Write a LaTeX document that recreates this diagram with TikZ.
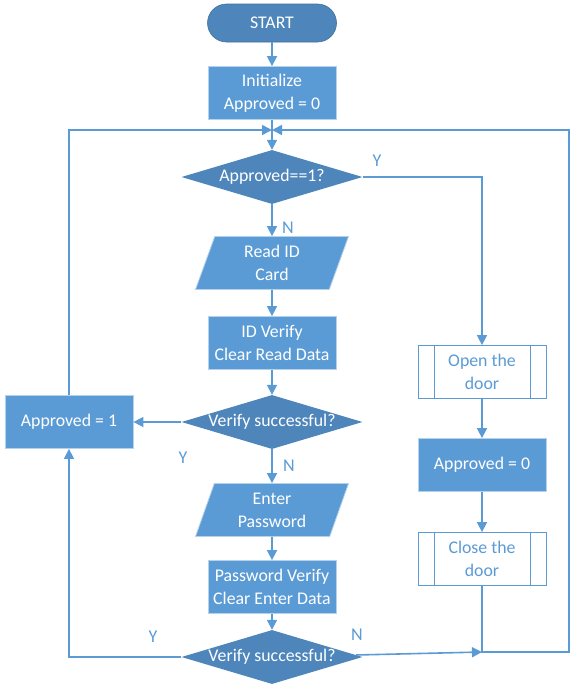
\documentclass[tikz,border=0pt]{standalone}
\usepackage{fontspec}
\setmainfont{Carlito}
\usepackage{xcolor}
\usetikzlibrary{shapes,arrows.meta,positioning,calc}
\definecolor{lineblue}{HTML}{5B9BD5}
\definecolor{boxblue}{HTML}{5B9BD5}
\definecolor{darkblue}{HTML}{4E86BC}
\definecolor{edgeblue}{HTML}{41719C}

\begin{document}
\begin{tikzpicture}[x=1pt,y=-1pt,
  font=\fontsize{17.8}{23}\selectfont,
  line/.style={draw=lineblue, line width=1.6pt},
  arr/.style={line, -{Triangle[width=10pt,length=10pt]}},
  proc/.style={rectangle, fill=boxblue, draw=boxblue!45, line width=0.8pt, text=white,
    minimum width=128pt, minimum height=53pt, align=center, inner sep=2pt},
  io/.style={trapezium, trapezium left angle=64, trapezium right angle=116,
    trapezium stretches body, fill=boxblue, draw=boxblue!45, line width=0.8pt, text=white,
    minimum width=153pt, minimum height=53pt, align=center, inner sep=2pt},
  decide/.style={diamond, aspect=3.35, fill=darkblue, text=white,
    minimum width=181pt, minimum height=54pt, inner sep=0pt},
  subproc/.style={rectangle, fill=white, draw=lineblue, line width=0.8pt, text=lineblue,
    minimum width=128pt, minimum height=53pt, align=center, inner sep=2pt,
    path picture={\draw[lineblue, line width=0.8pt]
      ([xshift=16pt]path picture bounding box.north west) -- ([xshift=16pt]path picture bounding box.south west)
      ([xshift=-16pt]path picture bounding box.north east) -- ([xshift=-16pt]path picture bounding box.south east);}},
  startstop/.style={rectangle, rounded corners=19pt, fill=darkblue, draw=edgeblue, line width=0.6pt,
    text=white, minimum width=129pt, minimum height=38pt},
  yn/.style={text=lineblue, font=\fontsize{18}{20}\selectfont, inner sep=0pt}
]
\useasboundingbox (0,0) rectangle (585,694);

% main column
\node[startstop] (start) at (272,23) {START};
\node[proc] (init) at (272,93) {Initialize\\Approved = 0};
\coordinate (join) at (272,130);
\node[decide] (chk) at (272,177) {Approved==1?};
\node[io] (card) at (272,263) {Read ID\\Card};
\node[proc] (idver) at (272,343) {ID Verify\\Clear Read Data};
\node[decide] (idok) at (272,422) {Verify successful?};
\node[proc] (appr1) at (69,422) {Approved = 1};
\node[io] (pwd) at (272,510) {Enter\\Password};
\node[proc] (pwver) at (272,587) {Password Verify\\Clear Enter Data};
\node[decide] (pwok) at (272,657) {Verify successful?};

% door column
\node[subproc] (open) at (482,372) {Open the\\door};
\node[proc] (appr0) at (482,465) {Approved = 0};
\node[subproc] (close) at (482,559) {Close the\\door};
\coordinate (merge) at (482,652);
\coordinate (back) at (569,652);

% connectors
\draw[arr] (start) -- (init);
\draw[line] (init) -- (join);
\draw[arr] (join) -- (chk);
\draw[arr] (chk) -- (card);
\draw[arr] (card) -- (idver);
\draw[arr] (idver) -- (idok);
\draw[arr] (idok) -- (appr1);
\draw[arr] (idok) -- (pwd);
\draw[arr] (pwd) -- (pwver);
\draw[arr] (pwver) -- (pwok);
\draw[arr] (pwok) -| (appr1);
\draw[arr] (appr1) |- (join);
\draw[arr] (chk) -| (open);
\draw[arr] (open) -- (appr0);
\draw[arr] (appr0) -- (close);
\draw[arr] (pwok) -- (merge);
\draw[arr] (close) |- (back) |- (join);

% labels
\node[yn] (y1) at (377,161) {Y};
\node[yn] (n1) at (288,228) {N};
\node[yn] (y2) at (183,458) {Y};
\node[yn] (n2) at (289,466) {N};
\node[yn] (y3) at (153,637) {Y};
\node[yn] (n3) at (357,635) {N};
\end{tikzpicture}
\end{document}
